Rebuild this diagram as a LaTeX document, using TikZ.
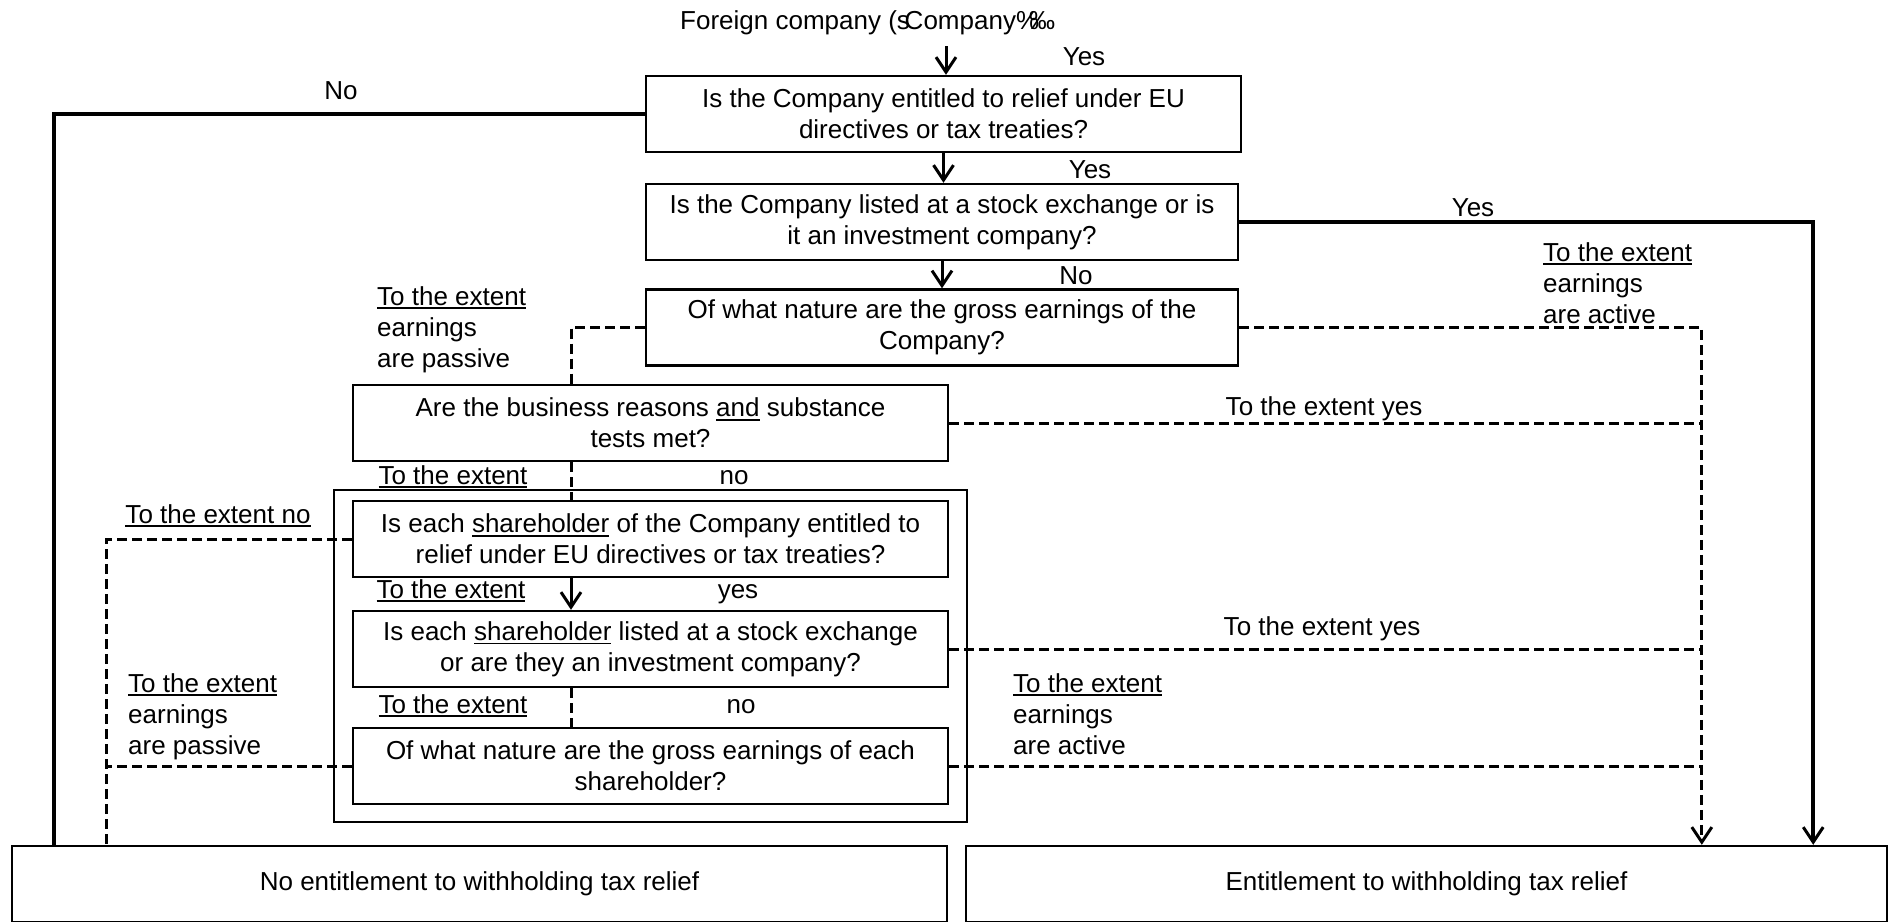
\documentclass[tikz,border=0pt]{standalone}
\usepackage{fontspec}
\setmainfont{Liberation Sans}
\usetikzlibrary{arrows.meta}
\newcommand{\myfs}{\fontsize{26}{31}\selectfont}
\newsavebox{\myulbox}
\newcommand{\myul}[1]{\sbox{\myulbox}{#1}\leavevmode\rlap{\rule[-4pt]{\wd\myulbox}{1.6pt}}\usebox{\myulbox}}
\begin{document}
\begin{tikzpicture}[x=1pt,y=-1pt,
  box/.style={draw, line width=2.4pt, align=center, inner sep=0pt, font=\myfs},
  qbox/.style={box, minimum width=595pt, minimum height=76pt},
  endbox/.style={box, minimum height=76pt},
  outerbox/.style={draw, line width=1.8pt},
  lbl/.style={inner sep=0pt, font=\myfs},
  multilbl/.style={inner sep=0pt, font=\myfs, align=left, anchor=base west},
  solidline/.style={line width=3.8pt},
  arr/.style={line width=3pt, -{Straight Barb[length=15pt,width=20pt,line width=3pt]}},
  dsh/.style={line width=3pt, dash pattern=on 10pt off 5pt},
  dsharr/.style={dsh, -{Straight Barb[length=15pt,width=20pt,line width=3pt]}}
]
\useasboundingbox (0,0) rectangle (1889,921);
\clip (0,0) rectangle (1889,921);

% question boxes
\node[qbox] (b1) at (943.5,114) {Is the Company entitled to relief under EU\\directives or tax treaties?};
\node[qbox, minimum width=592pt] (b2) at (942,222) {Is the Company listed at a stock exchange or is\\it an investment company?};
\node[qbox, minimum width=592pt] (b3) at (942,327.5) {Of what nature are the gross earnings of the\\Company?};
\node[qbox] (b4) at (650.5,423) {Are the business reasons \myul{and} substance\\tests met?};
\draw[outerbox] (334,490) rectangle (967,822);
\node[qbox] (b5) at (650.5,539) {Is each \myul{shareholder} of the Company entitled to\\relief under EU directives or tax treaties?};
\node[qbox] (b6) at (650.5,649) {Is each \myul{shareholder} listed at a stock exchange\\or are they an investment company?};
\node[qbox] (b7) at (650.5,766) {Of what nature are the gross earnings of each\\shareholder?};

% result boxes
\node[endbox, minimum width=935pt] (BL) at (479.5,884) {No entitlement to withholding tax relief};
\node[endbox, minimum width=921pt] (BR) at (1426.5,884) {Entitlement to withholding tax relief};

% coordinates
\coordinate (start) at (946,46);
\coordinate (noL) at ([xshift=43pt]BL.north west);
\coordinate (dL) at ([xshift=96pt]BL.north west);
\coordinate (yesR) at ([xshift=-75pt]BR.north east);
\coordinate (dR) at ([xshift=737pt]BR.north west);

% top text
\node[lbl, anchor=base west] (foreign) at (680,29) {Foreign company (s\kern-0.2em Company\%\kern-0.38em ‰};

% solid connectors
\draw[arr] (start) -- (b1.north -| start);
\draw[arr] (b1.south) -- (b2.north -| b1.south);
\draw[arr] (b2.south) -- (b3.north -| b2.south);
\draw[solidline] (b1.west) -| (noL);
\draw[solidline, -{Straight Barb[length=15pt,width=20pt,line width=3pt]}] (b2.east) -| (yesR);
\draw[arr] ([xshift=-79.5pt]b5.south) -- ([xshift=-79.5pt]b6.north);

% dashed connectors
\draw[dsh] (b3.west) -| ([xshift=-79.5pt]b4.north);
\draw[dsharr] (b3.east) -| (dR);
\draw[dsh] (b4.east) -- (b4.east -| dR);
\draw[dsh] ([xshift=-79.5pt]b4.south) -- ([xshift=-79.5pt]b5.north);
\draw[dsh] (b5.west) -| (dL);
\draw[dsh] (b6.east) -- (b6.east -| dR);
\draw[dsh] ([xshift=-79.5pt]b6.south) -- ([xshift=-79.5pt]b7.north);
\draw[dsh] (b7.west) -- (b7.west -| dL);
\draw[dsh] (b7.east) -- (b7.east -| dR);

% labels
\node[lbl, anchor=base] (lyes1) at (1084,65) {Yes};
\node[lbl, anchor=base] (lno0) at (341,99) {No};
\node[lbl, anchor=base] (lyes2) at (1090,178) {Yes};
\node[lbl, anchor=base] (lyes3) at (1473,216) {Yes};
\node[lbl, anchor=base] (lno1) at (1076,284) {No};
\node[multilbl] (lpass1) at (377,367) {\myul{To the extent}\\earnings\\are passive};
\node[multilbl] (lact1) at (1543,323) {\myul{To the extent}\\earnings\\are active};
\node[lbl, anchor=base] (lty1) at (1324,415) {To the extent yes};
\node[lbl, anchor=base] (lte1) at (453,484) {\myul{To the extent}};
\node[lbl, anchor=base] (lno2) at (734,484) {no};
\node[lbl, anchor=base] (ltno) at (218,523) {\myul{To the extent no}};
\node[lbl, anchor=base] (lte2) at (451,598) {\myul{To the extent}};
\node[lbl, anchor=base] (lyes4) at (738,598) {yes};
\node[lbl, anchor=base] (lty2) at (1322,635) {To the extent yes};
\node[lbl, anchor=base] (lte3) at (453,713) {\myul{To the extent}};
\node[lbl, anchor=base] (lno3) at (741,713) {no};
\node[multilbl] (lpass2) at (128,754) {\myul{To the extent}\\earnings\\are passive};
\node[multilbl] (lact2) at (1013,754) {\myul{To the extent}\\earnings\\are active};
\end{tikzpicture}
\end{document}
